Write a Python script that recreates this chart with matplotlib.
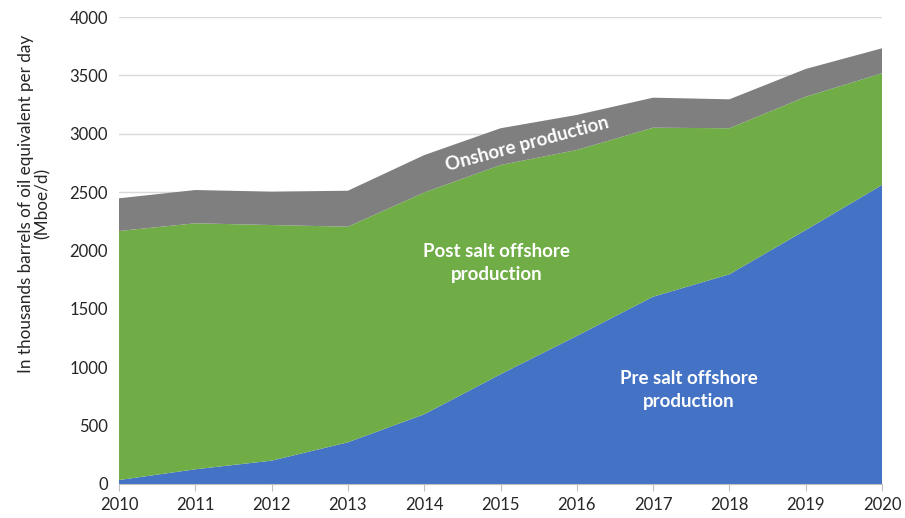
import numpy as np
import matplotlib
matplotlib.use("Agg")
import matplotlib.pyplot as plt

plt.rcParams['font.family'] = ['Lato', 'DejaVu Sans']

# Oil production by source, Mboe/d
years = [2010, 2011, 2012, 2013, 2014, 2015, 2016, 2017, 2018, 2019, 2020]
pre_salt = [34, 126, 200, 357, 597, 940, 1268, 1604, 1796, 2175, 2561]
post_salt = [2133, 2107, 2018, 1847, 1900, 1792, 1593, 1448, 1251, 1142, 957]
onshore = [280, 285, 286, 308, 320, 315, 300, 257, 248, 238, 214]

fig = plt.figure(figsize=(9.05, 5.18), dpi=100)
ax = fig.add_axes([119 / 905, 1 - 484 / 518, (882 - 119) / 905, (484 - 17) / 518])

ax.stackplot(years, pre_salt, post_salt, onshore,
             colors=['#4472C4', '#70AD47', '#7F7F7F'], linewidth=0, zorder=2)

ax.set_xlim(2010, 2020)
ax.set_ylim(0, 4000)
ax.set_xticks(years)
ax.set_yticks(np.arange(0, 4001, 500))
ax.yaxis.grid(True, color='#D9D9D9', linewidth=1, zorder=0)
ax.set_axisbelow(True)

for side in ['top', 'right', 'left']:
    ax.spines[side].set_visible(False)
ax.spines['bottom'].set_color('#BFBFBF')
ax.tick_params(axis='x', length=5, color='#BFBFBF', labelsize=12, pad=4, labelcolor='#262626')
ax.tick_params(axis='y', length=0, labelsize=12, pad=8, labelcolor='#262626')

ax.set_ylabel('In thousands barrels of oil equivalent per day\n(Mboe/d)',
              fontsize=12.3, color='#262626', linespacing=1.05)
ax.yaxis.set_label_coords(-0.09, 0.6)

lbl = dict(color='white', fontsize=13.5, fontweight='bold', ha='center', va='center',
           linespacing=1.45)
ax.text(2014.95, 1890, 'Post salt offshore\nproduction', **lbl)
ax.text(2017.47, 805, 'Pre salt offshore\nproduction', **lbl)
ax.text(2015.35, 2910, 'Onshore production', rotation=15, **lbl)

fig.savefig('out.png', dpi=100)
